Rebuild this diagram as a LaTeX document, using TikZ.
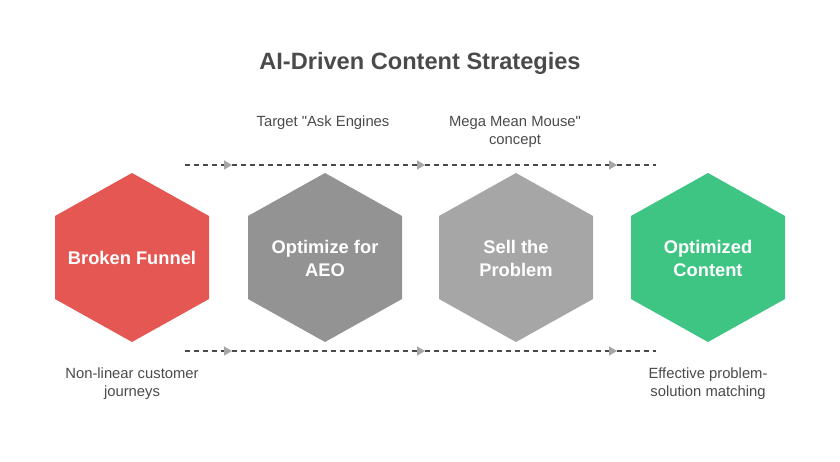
\documentclass[tikz,border=0pt]{standalone}
\usepackage{fontspec}
\setmainfont{Liberation Sans}
\usepackage{xcolor}
\usepackage{tikz}
\usetikzlibrary{arrows.meta}
\definecolor{hexred}{HTML}{E55753}
\definecolor{hexgraydark}{HTML}{939393}
\definecolor{hexgraylight}{HTML}{A6A6A6}
\definecolor{hexgreen}{HTML}{3EC584}
\definecolor{textgray}{HTML}{4A4A4A}
\tikzstyle{hexlabel} = [text=white, font=\bfseries\fontsize{18.3}{23}\selectfont, align=center]
\tikzstyle{note} = [text=textgray, font=\fontsize{14.8}{18}\selectfont, align=center]
\tikzstyle{flow} = [draw=textgray, line width=1.5pt, dash pattern=on 5pt off 4pt,
  -{Triangle[length=8pt, width=9pt, color=hexgraylight]}]
\tikzstyle{flowend} = [draw=textgray, line width=1.5pt, dash pattern=on 5pt off 4pt]
% hexagon: centre x, fill colour
\newcommand{\hexa}[2]{%
  \fill[#2] (#1,173) -- ++(77,43) -- ++(0,83) -- ++(-77,43) -- ++(-77,-43) -- ++(0,-83) -- cycle;}

\begin{document}
\begin{tikzpicture}[x=1pt, y=-1pt]
\useasboundingbox (0,0) rectangle (840,462);
%% title
\node[text=textgray, font=\bfseries\fontsize{23.6}{28}\selectfont] (title) at (420,63) {AI-Driven Content Strategies};

%% hexagons
\hexa{132}{hexred}
\node[hexlabel] (broken) at (132,258) {Broken Funnel};
\hexa{325}{hexgraydark}
\node[hexlabel] (aeo) at (325,258) {Optimize for\\AEO};
\hexa{516}{hexgraylight}
\node[hexlabel] (sell) at (516,258) {Sell the\\Problem};
\hexa{708}{hexgreen}
\node[hexlabel] (optim) at (708,258) {Optimized\\Content};

%% dashed flow lines
\foreach \y/\n in {165/t, 351/b} {
  \coordinate (\n0) at (185,\y);
  \coordinate (\n1) at (232,\y);
  \coordinate (\n2) at (425,\y);
  \coordinate (\n3) at (617,\y);
  \coordinate (\n4) at (656,\y);
  \draw[flow] (\n0) -- (\n1);
  \draw[flow] (\n1) -- (\n2);
  \draw[flow] (\n2) -- (\n3);
  \draw[flowend] (\n3) -- (\n4);
}

%% notes
\node[note] (target) at (323,123) {Target \textquotedbl Ask Engines};
\node[note] (mouse) at (515,132) {Mega Mean Mouse\textquotedbl\\concept};
\node[note] (nonlinear) at (132,384) {Non-linear customer\\journeys};
\node[note] (effective) at (708,384) {Effective problem-\\solution matching};
\end{tikzpicture}
\end{document}
